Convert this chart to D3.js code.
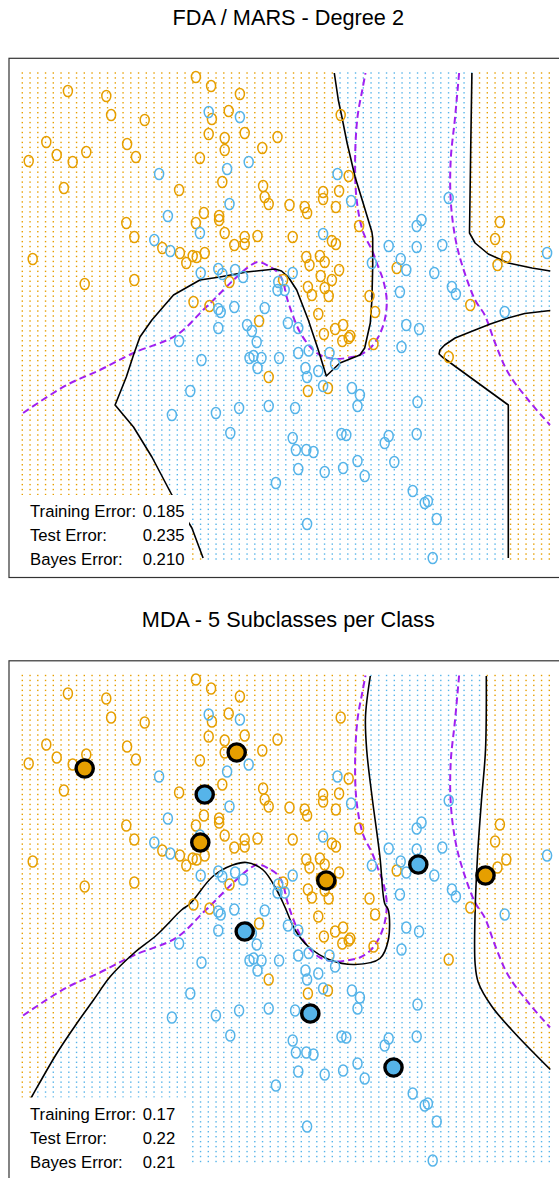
<!DOCTYPE html>
<html>
<head>
<meta charset="utf-8">
<script src="https://cdn.jsdelivr.net/npm/d3@7"></script>
<style>
  body { margin: 0; background: #fff; }
  svg { display: block; }
</style>
</head>
<body>
<svg id="chart" width="559" height="1178"></svg>
<script>
// ---- Data (x1, x2) ----
const orangePoints = [
  [-0.43,2.82],[-0.24,2.73],[-2.03,2.68],[-1.55,2.63],[0.12,2.65],[-1.49,2.44],[-1.07,2.39],[-0.02,2.48],[-0.23,2.40],[-0.27,2.25],
  [-0.07,2.21],[0.18,2.26],[0.59,2.22],[-2.30,2.17],[-1.29,2.15],[-0.07,2.09],[0.40,2.11],[-2.17,2.04],[-1.80,2.07],[-2.52,1.98],
  [-1.97,1.97],[-1.18,2.02],[-0.38,2.01],[-0.10,1.77],[-2.08,1.71],[-0.64,1.69],[0.41,1.73],[0.43,1.62],[0.48,1.55],[-0.33,1.46],
  [-0.14,1.43],[-0.14,1.39],[-1.30,1.36],[-0.43,1.36],[-1.20,1.22],[-0.07,1.26],[0.18,1.22],[0.34,1.23],[0.05,1.14],[0.18,1.15],
  [-0.85,1.11],[-0.63,1.06],[-0.47,1.03],[-0.42,1.02],[-0.32,1.06],[-0.55,0.96],[-2.47,1.00],[-1.82,0.75],[-1.20,0.79],[-0.01,0.77],
  [-0.46,0.57],[-0.26,0.53],[0.36,0.38],[0.66,0.79],
  [1.38,2.44],[1.48,1.83],[1.16,1.67],[1.16,1.60],[1.36,1.68],[0.74,1.54],[0.93,1.52],[0.96,1.46],[1.32,1.52],[1.61,1.33],
  [0.78,1.22],[1.27,1.18],[1.32,1.15],[0.95,1.02],[0.99,0.94],[1.12,1.03],[1.18,0.97],[1.36,0.89],[1.13,0.83],[1.27,0.79],
  [0.97,0.72],[1.02,0.64],[1.18,0.71],[1.23,0.63],[1.10,0.45],[1.74,0.63],[1.81,0.47],[2.08,0.91],[3.37,1.37],[3.31,1.20],
  [3.45,1.02],[3.34,0.94],[3.00,0.54],
  [1.17,0.25],[1.31,0.30],[1.41,0.34],[1.40,0.18],[1.48,0.21],[1.50,0.23],[1.79,0.15],[0.48,-0.18],[0.97,-0.32],[1.22,-0.29],
  [2.73,0.02]
];
const bluePoints = [
  [-0.27,2.47],[0.12,2.42],[0.23,1.97],[-0.04,1.90],[-0.89,1.85],[-0.01,1.55],[-0.78,1.43],[-0.38,1.26],[-0.95,1.19],[-0.75,1.08],
  [-0.37,0.86],[-0.15,0.90],[-0.10,0.85],[0.06,0.89],[0.16,0.82],[0.60,0.77],[0.59,0.69],[0.68,0.69],[-0.15,0.50],[-0.12,0.47],
  [0.05,0.52],[0.43,0.51],
  [-0.15,0.31],[0.21,0.34],[0.27,0.28],[0.33,0.17],[-0.64,0.18],[-0.36,-0.01],[0.24,0.01],[0.29,0.03],[0.39,0.01],[0.34,-0.09],
  [0.61,0.01],[-0.50,-0.32],[-0.73,-0.56],[-0.18,-0.54],[0.11,-0.49],[0.48,-0.47],[0.00,-0.74],[0.57,-1.24],
  [1.34,1.85],[1.51,1.58],[1.16,1.25],[0.78,0.86],[1.77,0.96],[1.98,1.13],[2.13,1.00],[2.20,0.89],[2.33,1.33],[2.39,1.39],
  [2.33,1.12],[2.65,1.14],[2.73,1.61],[2.55,0.86],[2.12,0.67],[2.77,0.72],[2.82,0.65],[3.96,1.06],[3.43,0.47],
  [0.72,0.36],[0.85,0.31],[0.85,0.06],[0.98,0.085],[1.24,0.06],[1.31,-0.05],[0.94,-0.09],[0.96,-0.18],[1.10,-0.12],[1.16,-0.27],
  [1.52,-0.29],[1.62,-0.36],[1.59,-0.47],[0.81,-0.49],[2.20,0.34],[2.36,0.30],[2.14,0.12],[2.34,-0.43],[1.39,-0.75],[1.45,-0.76],
  [0.78,-0.79],[0.82,-0.91],[0.95,-0.91],[1.04,-0.93],[1.93,-0.84],[1.98,-0.77],[2.33,-0.75],[0.85,-1.10],[1.18,-1.13],[1.41,-1.09],
  [1.59,-1.02],[1.68,-1.17],[2.05,-1.03],[2.28,-1.32],[2.43,-1.44],[2.47,-1.42],[2.58,-1.60],[0.96,-1.65],[2.53,-1.99]
];

// MDA subclass centres
const mdaOrangeCenters = [[-1.82,1.93],[0.08,2.09],[-0.375,1.19],[1.20,0.81],[3.19,0.86]];
const mdaBlueCenters = [[-0.32,1.67],[2.35,0.97],[0.18,0.30],[1.00,-0.52],[2.04,-1.06]];

// Bayes decision boundary (two pieces)
const bayesBoundaryLeft = [
  [-2.59,-0.54],[-2.045,-0.26],[-1.63,-0.11],[-1.21,0.06],[-0.67,0.24],[-0.34,0.49],[-0.21,0.59],[0.04,0.79],[0.225,0.92],[0.35,0.97],
  [0.50,0.92],[0.60,0.86],[0.66,0.77],[0.705,0.62],[0.77,0.46],[0.87,0.27],[1.00,0.12],[1.12,0.04],[1.29,0.00],[1.455,0.01],
  [1.62,0.04],[1.75,0.11],[1.85,0.22],[1.93,0.39],[1.955,0.59],[1.91,0.79],[1.85,0.92],[1.77,1.09],[1.66,1.27],[1.58,1.59],
  [1.56,1.99],[1.59,2.42],[1.65,2.69],[1.69,2.86]
];
const bayesBoundaryRight = [
  [2.86,2.86],[2.81,2.42],[2.755,1.99],[2.755,1.59],[2.81,1.22],[2.89,0.96],[3.06,0.59],[3.18,0.44],[3.31,0.16],[3.475,-0.14],
  [3.725,-0.41],[3.996,-0.66]
];

// FDA / MARS decision boundary pieces
const fdaBoundaryMain = [
  [1.30,2.86],[1.35,2.59],[1.39,2.44],[1.46,2.16],[1.56,1.82],[1.66,1.56],[1.77,1.27],[1.78,1.21],[1.78,0.92],[1.77,0.59],
  [1.75,0.36],[1.68,0.11],[1.62,0.04],[1.37,-0.04],[1.20,-0.17],[1.10,0.09],[0.975,0.39],[0.83,0.69],[0.725,0.82],[0.64,0.88],
  [0.56,0.90],[0.205,0.87],[-0.13,0.82],[-0.38,0.79],[-0.71,0.64],[-0.84,0.52],[-0.98,0.39],[-1.13,0.22],[-1.21,0.04],[-1.30,-0.18],
  [-1.44,-0.46],[-1.21,-0.68],[-0.98,-0.98],[-0.73,-1.36],[-0.48,-1.69],[-0.34,-1.99]
];
const fdaBoundaryTopRight = [
  [3.02,2.86],[3.005,2.09],[2.99,1.26],[3.06,1.16],[3.225,1.05],[3.475,0.96],[3.77,0.91],[4.00,0.88]
];
const fdaBoundaryBottomRight = [
  [4.00,0.485],[3.68,0.455],[3.47,0.41],[3.25,0.35],[3.06,0.29],[2.81,0.21],[2.68,0.14],[2.62,0.09],[2.61,0.05],[2.65,0.02],
  [3.475,-0.46],[3.475,-1.99]
];

// MDA decision boundary pieces
const mdaBoundaryMain = [
  [1.75,2.855],[1.69,2.45],[1.705,2.115],[1.77,1.66],[1.87,1.05],[1.93,0.58],[1.975,0.515],[1.975,0.215],[1.87,0.03],[1.56,-0.03],
  [1.25,0.015],[0.975,0.15],[0.81,0.315],[0.68,0.55],[0.58,0.715],[0.41,0.915],[0.205,0.99],[0.03,0.965],[-0.22,0.85],[-0.50,0.58],
  [-0.61,0.515],[-0.92,0.265],[-1.21,0.08],[-1.50,-0.15],[-1.71,-0.385],[-1.92,-0.62],[-2.17,-0.92],[-2.48,-1.35],[-2.60,-1.52]
];
const mdaBoundaryRight = [
  [3.20,2.855],[3.19,2.115],[3.14,1.615],[3.09,1.05],[3.06,0.49],[3.06,-0.02],[3.10,-0.21],[3.27,-0.45],[3.56,-0.72],[4.00,-1.08]
];

const panelTitles = ["FDA / MARS - Degree 2", "MDA - 5 Subclasses per Class"];
const errorNames = ["Training Error:", "Test Error:", "Bayes Error:"];
const fdaErrors = ["0.185", "0.235", "0.210"];
const mdaErrors = ["0.17", "0.22", "0.21"];

const xDomain = [-2.6, 3.9875];
const yDomain = [-2.0, 2.86];
const gridCols = 69, gridRows = 99;

// ---- Styling / layout ----
const ORANGE = "#E69F00", BLUE = "#56B4E9", PURPLE = "#A020F0";
const FONT = "'Liberation Sans', Arial, Helvetica, sans-serif";
const panelOffset = 602.5;

const svg = d3.select("#chart");
const sx = d3.scaleLinear().domain(xDomain).range([22.3, 549.3]);
const sy = d3.scaleLinear().domain(yDomain).range([559, 73]);

// orange decision regions, closed off beyond the grid
const far = 5;
const fdaOrangeRegions = [
  [[fdaBoundaryMain[0][0], far], ...fdaBoundaryMain, [fdaBoundaryMain.at(-1)[0], -far], [-far, -far], [-far, far]],
  [[fdaBoundaryTopRight[0][0], far], ...fdaBoundaryTopRight, [far, fdaBoundaryTopRight.at(-1)[1]], [far, far]],
  [[far, fdaBoundaryBottomRight[0][1]], ...fdaBoundaryBottomRight, [fdaBoundaryBottomRight.at(-1)[0], -far], [far, -far]]
];
const mdaOrangeRegions = [
  [[mdaBoundaryMain[0][0], far], ...mdaBoundaryMain, [-far, mdaBoundaryMain.at(-1)[1]], [-far, far]],
  [[mdaBoundaryRight[0][0], far], ...mdaBoundaryRight, [far, mdaBoundaryRight.at(-1)[1]], [far, far]]
];

const panels = [
  { title: panelTitles[0], errors: fdaErrors, regions: fdaOrangeRegions,
    boundaries: [fdaBoundaryMain, fdaBoundaryTopRight, fdaBoundaryBottomRight],
    curve: d3.curveLinear, centers: false },
  { title: panelTitles[1], errors: mdaErrors, regions: mdaOrangeRegions,
    boundaries: [mdaBoundaryMain, mdaBoundaryRight],
    curve: d3.curveCatmullRom.alpha(0.5), centers: true }
];

// grid of prediction dots
const gridPts = [];
for (let i = 0; i < gridCols; i++) {
  for (let j = 0; j < gridRows; j++) {
    gridPts.push([
      xDomain[0] + i * (xDomain[1] - xDomain[0]) / (gridCols - 1),
      yDomain[1] - j * (yDomain[1] - yDomain[0]) / (gridRows - 1)
    ]);
  }
}

panels.forEach((p, k) => {
  const g = svg.append("g").attr("transform", `translate(0,${k * panelOffset})`);

  g.append("text")
    .attr("x", 288.3).attr("y", 24.7)
    .attr("text-anchor", "middle")
    .attr("font-family", FONT).attr("font-size", 21.7)
    .attr("fill", "#000")
    .text(p.title);

  // background classification dots
  g.append("g").selectAll("rect").data(gridPts).join("rect")
    .attr("x", d => sx(d[0]) - 0.7)
    .attr("y", d => sy(d[1]) - 0.7)
    .attr("width", 1.4).attr("height", 1.4)
    .attr("fill", d => p.regions.some(poly => d3.polygonContains(poly, d)) ? ORANGE : BLUE);

  // Bayes boundary
  const bayesLine = d3.line().x(d => sx(d[0])).y(d => sy(d[1])).curve(d3.curveCatmullRom.alpha(0.5));
  [bayesBoundaryLeft, bayesBoundaryRight].forEach(b => {
    g.append("path").attr("d", bayesLine(b))
      .attr("fill", "none").attr("stroke", PURPLE)
      .attr("stroke-width", 2).attr("stroke-dasharray", "7,4");
  });

  // model boundary
  const modelLine = d3.line().x(d => sx(d[0])).y(d => sy(d[1])).curve(p.curve);
  p.boundaries.forEach(b => {
    g.append("path").attr("d", modelLine(b))
      .attr("fill", "none").attr("stroke", "#000")
      .attr("stroke-width", 1.6).attr("stroke-linejoin", "round");
  });

  // training data
  const drawPts = (data, color) => {
    g.append("g").selectAll("ellipse").data(data).join("ellipse")
      .attr("cx", d => sx(d[0])).attr("cy", d => sy(d[1]))
      .attr("rx", 4.5).attr("ry", 5.6)
      .attr("fill", "none").attr("stroke", color).attr("stroke-width", 1.5);
  };
  drawPts(orangePoints, ORANGE);
  drawPts(bluePoints, BLUE);

  if (p.centers) {
    const drawCenters = (data, color) => {
      g.append("g").selectAll("circle").data(data).join("circle")
        .attr("cx", d => sx(d[0])).attr("cy", d => sy(d[1]))
        .attr("r", 8.6)
        .attr("fill", color).attr("stroke", "#000").attr("stroke-width", 3.4);
    };
    drawCenters(mdaOrangeCenters, ORANGE);
    drawCenters(mdaBlueCenters, BLUE);
  }

  // error legend
  g.append("rect").attr("x", 10).attr("y", 495).attr("width", 179).attr("height", 82)
    .attr("fill", "#fff");
  const baselines = [517.3, 541.2, 565.2];
  errorNames.forEach((name, i) => {
    g.append("text").attr("x", 30).attr("y", baselines[i])
      .attr("font-family", FONT).attr("font-size", 16.7).attr("fill", "#000")
      .text(name);
    g.append("text").attr("x", 142.7).attr("y", baselines[i])
      .attr("font-family", FONT).attr("font-size", 16.7).attr("fill", "#000")
      .text(p.errors[i]);
  });

  // frame
  g.append("rect").attr("x", 9).attr("y", 58.3).attr("width", 554).attr("height", 519.2)
    .attr("fill", "none").attr("stroke", "#333").attr("stroke-width", 1.2);
});
</script>
</body>
</html>
